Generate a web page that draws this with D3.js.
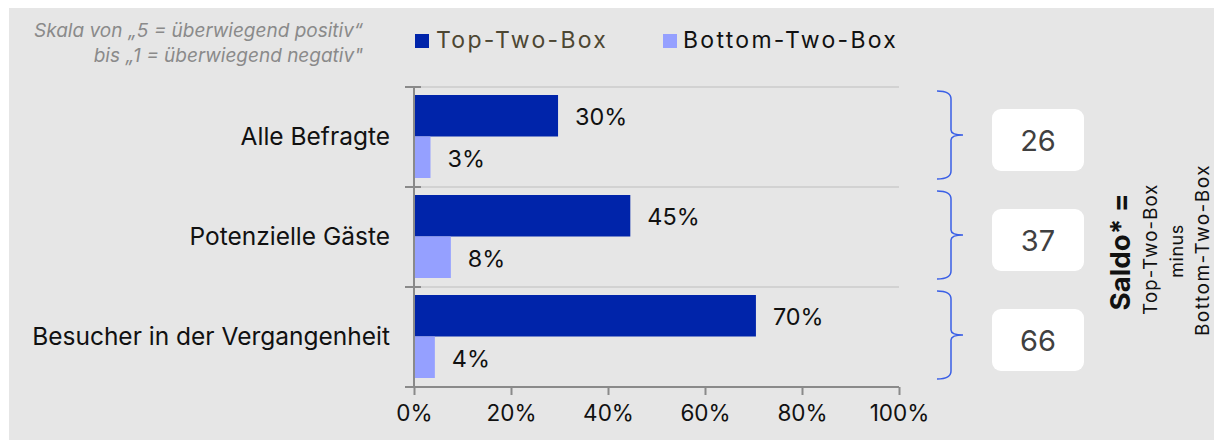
<!DOCTYPE html>
<html><head><meta charset="utf-8">
<script src="https://cdn.jsdelivr.net/npm/d3@7"></script>
<style>
html,body{margin:0;padding:0;background:#fff;}
svg{display:block;}
text{font-family:Inter,"Noto Sans",sans-serif;}
</style></head>
<body>
<svg id="chart" width="1214" height="440"></svg>
<script>
const categories = ["Alle Befragte", "Potenzielle Gäste", "Besucher in der Vergangenheit"];
const seriesNames = ["Top-Two-Box", "Bottom-Two-Box"];
const topTwoBox = [29.7, 44.6, 70.5];
const bottomTwoBox = [3.4, 7.6, 4.3];
const topLabels = ["30%", "45%", "70%"];
const bottomLabels = ["3%", "8%", "4%"];
const saldo = [26, 37, 66];
const xTicks = [0, 20, 40, 60, 80, 100];
const xTickLabels = ["0%", "20%", "40%", "60%", "80%", "100%"];
const colors = ["#0024aa", "#95a0ff"];

const svg = d3.select("#chart");
svg.append("rect").attr("x", 9).attr("y", 8).attr("width", 1214 - 9).attr("height", 440 - 8).attr("fill", "#e6e6e6");

const x = d3.scaleLinear().domain([0, 100]).range([414, 899]);
const y = d3.scaleBand().domain(categories).range([87, 387]).padding(0);
const ySub = d3.scaleBand().domain(seriesNames).range([8, 91]).padding(0);

// gridlines at band boundaries
const bounds = categories.map(c => y(c));
svg.append("g").selectAll("line").data(bounds).join("line")
  .attr("x1", 414).attr("x2", 899).attr("y1", d => d).attr("y2", d => d)
  .attr("stroke", "#cbcbcb").attr("stroke-width", 1.5);

// bars
const rows = categories.map((c, i) => ({c, vals: [topTwoBox[i], bottomTwoBox[i]], labels: [topLabels[i], bottomLabels[i]]}));
const g = svg.append("g");
rows.forEach(r => {
  r.vals.forEach((v, j) => {
    const yy = y(r.c) + ySub(seriesNames[j]);
    g.append("rect").attr("x", x(0)).attr("y", yy).attr("width", x(v) - x(0)).attr("height", ySub.bandwidth())
      .attr("fill", colors[j]);
    g.append("text").attr("x", x(v) + 17).attr("y", yy + ySub.bandwidth() / 2 + 1)
      .attr("dominant-baseline", "central").attr("font-size", 23.4).attr("fill", "#111")
      .text(r.labels[j]);
  });
});

// y axis line + cross ticks
const axisColor = "#8a8a8a";
svg.append("line").attr("x1", 414).attr("x2", 414).attr("y1", 87).attr("y2", 388).attr("stroke", axisColor).attr("stroke-width", 2);
svg.append("g").selectAll("line").data(bounds.concat([387])).join("line")
  .attr("x1", 405).attr("x2", 421).attr("y1", d => d).attr("y2", d => d)
  .attr("stroke", axisColor).attr("stroke-width", 2);

// y labels
svg.append("g").selectAll("text").data(categories).join("text")
  .attr("x", 390).attr("y", d => y(d) + y.bandwidth() / 2 - 1)
  .attr("text-anchor", "end").attr("dominant-baseline", "central")
  .attr("font-size", 24.5).attr("fill", "#111").text(d => d);

// x axis
const xAxis = d3.axisBottom(x).tickValues(xTicks).tickFormat((d, i) => xTickLabels[i]).tickSize(8).tickSizeOuter(0);
const xg = svg.append("g").attr("transform", "translate(0,387)").call(xAxis);
xg.select(".domain").attr("stroke", axisColor).attr("stroke-width", 2).attr("d", "M407,0H899");
xg.selectAll(".tick line").attr("stroke", axisColor).attr("stroke-width", 2);
xg.selectAll(".tick text").attr("font-size", 22.5).attr("fill", "#111").attr("font-family", "Inter,'Noto Sans',sans-serif").attr("dy", "1.02em");

// braces
const braceX0 = 937, braceXm = 951, braceX1 = 963;
svg.append("g").selectAll("path").data(categories).join("path")
  .attr("d", c => {
    const t = y(c) + 4, b = y(c) + y.bandwidth() - 8, m = (t + b) / 2;
    return `M${braceX0},${t} Q${braceXm},${t} ${braceXm},${t + 8} L${braceXm},${m - 5} Q${braceXm},${m} ${braceX1},${m} Q${braceXm},${m} ${braceXm},${m + 5} L${braceXm},${b - 8} Q${braceXm},${b} ${braceX0},${b}`;
  })
  .attr("fill", "none").attr("stroke", "#3a5fe6").attr("stroke-width", 1.5);

// saldo boxes
const boxes = svg.append("g").selectAll("g").data(categories).join("g")
  .attr("transform", c => `translate(1038,${y(c) + y.bandwidth() / 2 + 3})`);
boxes.append("rect").attr("x", -46).attr("y", -31).attr("width", 92).attr("height", 62).attr("rx", 9).attr("fill", "#fff");
boxes.append("text").attr("text-anchor", "middle").attr("dominant-baseline", "central")
  .attr("font-size", 29).attr("fill", "#404040").text((c, i) => saldo[i]);

// rotated saldo explanation
const rot = (tx, ty, txt, size, weight, ls) => svg.append("text")
  .attr("transform", `translate(${tx},${ty}) rotate(-90)`).attr("text-anchor", "middle")
  .attr("font-size", size).attr("font-weight", weight).attr("letter-spacing", ls).attr("fill", "#111").text(txt);
rot(1130, 252, "Saldo* =", 27.7, 700, 0);
rot(1157, 249, "Top-Two-Box", 18.5, 400, 1.2);
rot(1183, 251, "minus", 18, 400, 0.5);
rot(1209, 250, "Bottom-Two-Box", 19, 400, 1.5);

// legend
const leg = svg.append("g");
[[415, 436, "#4d4733"], [663, 683, "#111"]].forEach((p, i) => {
  leg.append("rect").attr("x", p[0]).attr("y", 34).attr("width", 14).attr("height", 14).attr("fill", colors[i]);
  leg.append("text").attr("x", p[1]).attr("y", 48).attr("font-size", 23).attr("letter-spacing", 2.3).attr("fill", p[2]).text(seriesNames[i]);
});

// subtitle
svg.append("text").attr("x", 363).attr("y", 37).attr("text-anchor", "end").attr("font-size", 19)
  .attr("font-style", "italic").attr("fill", "#8a8a8a").text("Skala von „5 = überwiegend positiv“");
svg.append("text").attr("x", 363).attr("y", 62).attr("text-anchor", "end").attr("font-size", 19)
  .attr("font-style", "italic").attr("fill", "#8a8a8a").text("bis „1 = überwiegend negativ\"");
</script>
</body></html>
